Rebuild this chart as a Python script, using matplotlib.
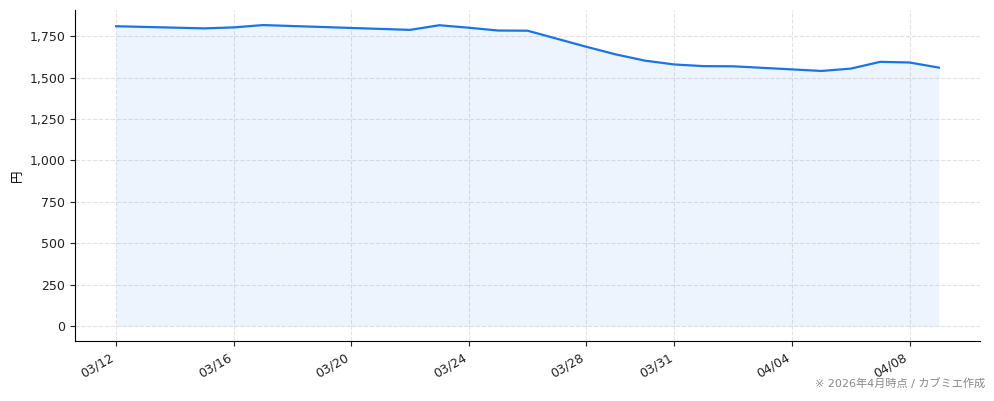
import pandas as pd
import matplotlib
matplotlib.use("Agg")
import matplotlib.pyplot as plt
import matplotlib.dates as mdates

plt.rcParams['font.family'] = ['DejaVu Sans', 'Noto Sans CJK JP']

# price history (円)
dates = ["2026-03-12", "2026-03-15", "2026-03-16", "2026-03-17", "2026-03-22",
         "2026-03-23", "2026-03-24", "2026-03-25", "2026-03-26", "2026-03-28",
         "2026-03-29", "2026-03-30", "2026-03-31", "2026-04-01", "2026-04-02",
         "2026-04-05", "2026-04-06", "2026-04-07", "2026-04-08", "2026-04-09"]
prices = [1810, 1797, 1803, 1817, 1788,
          1816, 1801, 1784, 1783, 1686,
          1640, 1602, 1579, 1569, 1568,
          1540, 1554, 1595, 1591, 1560]
tick_dates = ["2026-03-12", "2026-03-16", "2026-03-20", "2026-03-24",
              "2026-03-28", "2026-03-31", "2026-04-04", "2026-04-08"]
note = "※ 2026年4月時点 / カブミエ作成"

def main():
    x = pd.to_datetime(dates)
    color = "#1a73e8"

    fig = plt.figure(figsize=(9.94, 4.01), dpi=100)
    ax = fig.add_axes([0.0755, 0.1496, 0.9105, 0.8254])

    ax.plot(x, prices, color=color, linewidth=1.6)
    ax.fill_between(x, prices, 0, color=color, alpha=0.08, linewidth=0)

    ax.set_xticks(pd.to_datetime(tick_dates))
    ax.xaxis.set_major_formatter(mdates.DateFormatter("%m/%d"))
    for lbl in ax.get_xticklabels():
        lbl.set_rotation(30)
        lbl.set_ha("right")
    ax.yaxis.set_major_formatter(matplotlib.ticker.FuncFormatter(lambda v, p: f"{v:,.0f}"))
    ax.set_yticks(range(0, 1751, 250))
    ax.tick_params(labelsize=9, colors="#222222")

    ax.set_ylabel("円", fontsize=9)
    ax.grid(True, linestyle="--", color="#d9dbe0", alpha=0.8, linewidth=0.8)
    ax.set_axisbelow(True)
    for side in ["top", "right"]:
        ax.spines[side].set_visible(False)

    fig.text(0.991, 0.03, note, ha="right", va="bottom", fontsize=8, color="#888888")

    fig.savefig("out.png", dpi=100)

if __name__ == "__main__":
    main()
